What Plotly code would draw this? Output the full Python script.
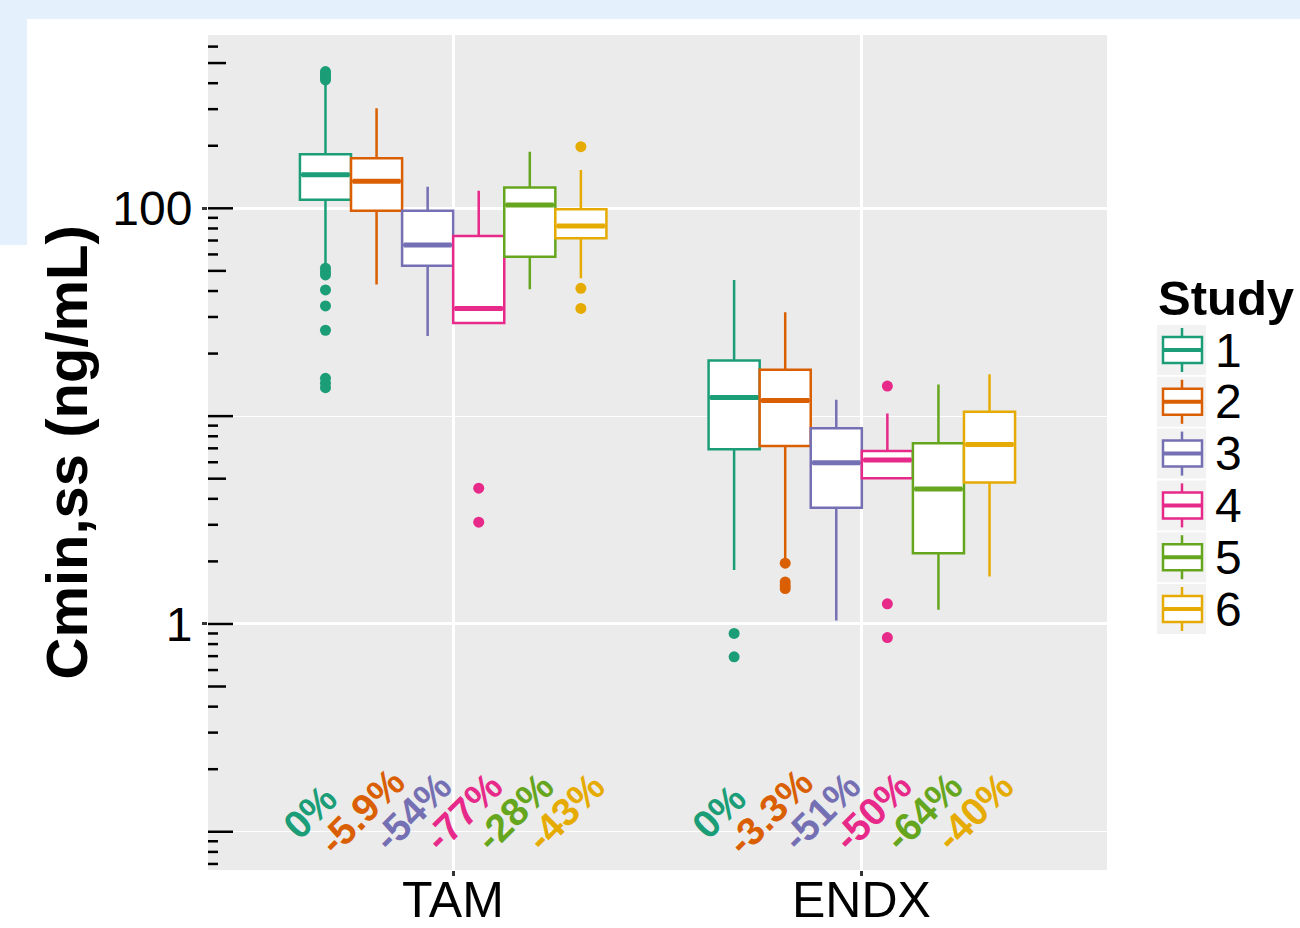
import numpy as np
import plotly.graph_objects as go

# ---------------- data ----------------
drugs = ["TAM", "ENDX"]
studies = ["1", "2", "3", "4", "5", "6"]
colors = ["#1B9E77", "#D95F02", "#7570B3", "#E7298A", "#66A61E", "#E6AB02"]

tam_q1 = [110, 97.4, 52.9, 28.1, 58.5, 71.7]
tam_med = [145, 135, 66.6, 33.0, 103.7, 82.2]
tam_q3 = [182, 174, 97.4, 73.6, 126, 98.9]
tam_lo = [53, 43, 24.3, 28.1, 40.8, 46.1]
tam_hi = [400, 303, 127, 121.5, 187, 153]
tam_out = [
    [455, 445, 435, 425, 415, 51.5, 49.5, 47.8, 40.5, 33.9, 25.9, 15.2, 14.4, 13.7],
    [],
    [],
    [4.5, 3.09],
    [],
    [198, 41.2, 33.0],
]

endx_q1 = [6.92, 7.18, 3.62, 5.02, 2.19, 4.80]
endx_med = [12.3, 11.9, 5.97, 6.15, 4.46, 7.31]
endx_q3 = [18.5, 16.7, 8.74, 6.79, 7.40, 10.5]
endx_lo = [1.82, 2.07, 1.04, 5.02, 1.17, 1.69]
endx_hi = [45.2, 31.6, 12.0, 10.3, 14.2, 15.9]
endx_out = [
    [0.90, 0.695],
    [1.96, 1.59, 1.53, 1.48],
    [],
    [13.96, 1.25, 0.86],
    [],
    [],
]

tam_pct = ["0%", "-5.9%", "-54%", "-77%", "-28%", "-43%"]
endx_pct = ["0%", "-3.3%", "-51%", "-50%", "-64%", "-40%"]

y_ticks = [1, 100]
y_minor = [0.1, 10]

# ---------------- layout constants ----------------
W, H = 1300, 928
L, R, T, B = 208, 193, 35, 58
PW, PH = W - L - R, H - T - B
FONT = "Liberation Sans, Arial, sans-serif"
DODGE = 0.75
BW = DODGE / len(studies)
YR = [-1.184, 2.834]


def px_x(px):
    return (px - L) / PW


def px_y(py):
    return (H - B - py) / PH


fig = go.Figure()

stats = {
    "TAM": (tam_q1, tam_med, tam_q3, tam_lo, tam_hi, tam_out, tam_pct),
    "ENDX": (endx_q1, endx_med, endx_q3, endx_lo, endx_hi, endx_out, endx_pct),
}

annotations = []
for di, d in enumerate(drugs):
    q1, med, q3, lo, hi, outs, pct = stats[d]
    for si, s in enumerate(studies):
        pos = di + 1 + (si - (len(studies) - 1) / 2) * BW
        c = colors[si]
        fig.add_trace(go.Box(
            x=[pos], q1=[q1[si]], median=[med[si]], q3=[q3[si]],
            lowerfence=[lo[si]], upperfence=[hi[si]],
            width=BW, whiskerwidth=0, fillcolor="white",
            line=dict(color=c, width=2.5), boxpoints=False,
            name=s, showlegend=False, hoverinfo="skip",
        ))
        # thicker median line
        fig.add_trace(go.Scatter(
            x=[pos - BW / 2 + 0.004, pos + BW / 2 - 0.004], y=[med[si], med[si]],
            mode="lines", line=dict(color=c, width=5),
            showlegend=False, hoverinfo="skip",
        ))
        if outs[si]:
            fig.add_trace(go.Scatter(
                x=[pos] * len(outs[si]), y=outs[si], mode="markers",
                marker=dict(color=c, size=11, line=dict(width=0)),
                showlegend=False, hoverinfo="skip",
            ))
        annotations.append(dict(
            x=pos, y=np.log10(0.1), xref="x", yref="y", text="<b>%s</b>" % pct[si],
            showarrow=False, textangle=-45, xshift=-15, yshift=20,
            font=dict(family=FONT, size=39, color=c),
        ))

# x category labels
for di, d in enumerate(drugs):
    annotations.append(dict(
        x=di + 1, y=px_y(870), xref="x", yref="paper", xanchor="center", yanchor="top",
        text=d, showarrow=False, font=dict(family=FONT, size=50, color="black"),
    ))

# ---------------- log ticks inside the panel ----------------
shapes = []
for e in range(-3, 4):
    for m in range(1, 10):
        v = m * 10.0 ** e
        lv = np.log10(v)
        if YR[0] <= lv <= YR[1]:
            ln = 25 if m == 1 else (18 if m == 5 else 10)
            shapes.append(dict(type="line", xref="paper", yref="y",
                               x0=0, x1=ln / PW, y0=v, y1=v,
                               line=dict(color="black", width=2.5), layer="above"))

# ---------------- screenshot frame ----------------
frame = "#E4F0FB"
shapes.append(dict(type="rect", xref="paper", yref="paper",
                   x0=px_x(0), x1=px_x(W), y0=px_y(19), y1=px_y(0),
                   fillcolor=frame, line=dict(width=0), layer="below"))
shapes.append(dict(type="rect", xref="paper", yref="paper",
                   x0=px_x(0), x1=px_x(27), y0=px_y(245), y1=px_y(0),
                   fillcolor=frame, line=dict(width=0), layer="below"))

# ---------------- manual legend ----------------
annotations.append(dict(
    x=px_x(1156), y=px_y(298), xref="paper", yref="paper", xanchor="left", yanchor="middle",
    text="<b>Study</b>", showarrow=False, font=dict(family=FONT, size=49, color="black"),
))
for si, s in enumerate(studies):
    cy = 350 + si * 51.8
    c = colors[si]
    shapes.append(dict(type="rect", xref="paper", yref="paper",
                       x0=px_x(1157), x1=px_x(1206), y0=px_y(cy + 25), y1=px_y(cy - 25),
                       fillcolor="#F2F2F2", line=dict(width=0)))
    shapes.append(dict(type="line", xref="paper", yref="paper",
                       x0=px_x(1182), x1=px_x(1182), y0=px_y(cy + 22), y1=px_y(cy - 22),
                       line=dict(color=c, width=2.5)))
    shapes.append(dict(type="rect", xref="paper", yref="paper",
                       x0=px_x(1163), x1=px_x(1202), y0=px_y(cy + 13), y1=px_y(cy - 13),
                       fillcolor="white", line=dict(color=c, width=2.5)))
    shapes.append(dict(type="line", xref="paper", yref="paper",
                       x0=px_x(1163), x1=px_x(1202), y0=px_y(cy), y1=px_y(cy),
                       line=dict(color=c, width=4)))
    annotations.append(dict(
        x=px_x(1213), y=px_y(cy), xref="paper", yref="paper", xanchor="left", yanchor="middle",
        text=s, showarrow=False, font=dict(family=FONT, size=48, color="black"),
    ))

# y-axis title
annotations.append(dict(
    x=px_x(66), y=px_y((T + H - B) / 2), xref="paper", yref="paper",
    xanchor="center", yanchor="middle", textangle=-90,
    text="<b>Cmin,ss (ng/mL)</b>", showarrow=False,
    font=dict(family=FONT, size=58, color="black"),
))

fig.update_layout(
    width=W, height=H, autosize=False,
    margin=dict(l=L, r=R, t=T, b=B, pad=0, autoexpand=False),
    paper_bgcolor="white", plot_bgcolor="#EBEBEB",
    showlegend=False,
    shapes=shapes, annotations=annotations,
    font=dict(family=FONT, color="black"),
)
fig.update_xaxes(
    range=[0.4, 2.6], tickvals=[1, 2], ticktext=drugs, showticklabels=False,
    showgrid=True, gridcolor="white", gridwidth=3,
    ticks="outside", ticklen=5, tickwidth=2.5, tickcolor="#333333",
    zeroline=False, showline=False, fixedrange=True, automargin=False,
)
fig.update_yaxes(
    type="log", range=YR, tickvals=y_ticks, ticktext=[str(v) for v in y_ticks],
    showgrid=True, gridcolor="white", gridwidth=3,
    ticks="outside", ticklen=5, tickwidth=2.5, tickcolor="#333333",
    tickfont=dict(family=FONT, size=48, color="black"),
    minor=dict(tickvals=y_minor, showgrid=True, gridcolor="white", gridwidth=1.3, ticks=""),
    zeroline=False, showline=False, fixedrange=True, automargin=False,
)

fig.write_html(
    "out.html",
    config={"displayModeBar": False},
    post_script="document.body.style.margin='0';document.body.style.overflow='hidden';",
)
